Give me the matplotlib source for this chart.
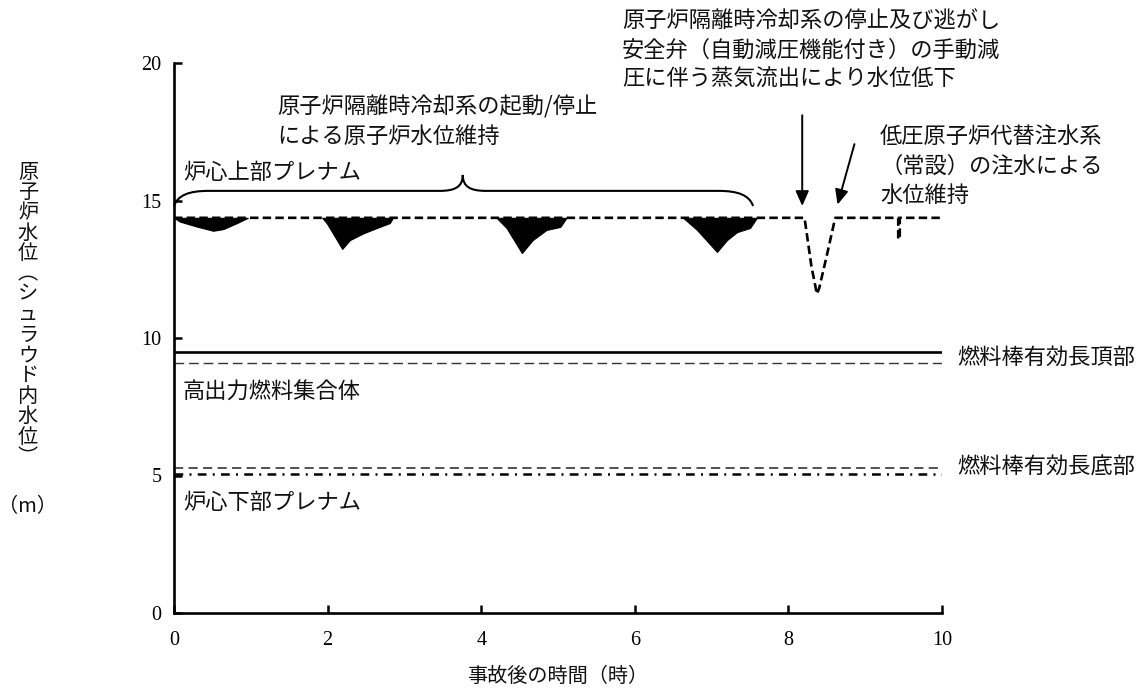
import matplotlib
matplotlib.use('Agg')
import matplotlib.pyplot as plt
from matplotlib.path import Path
from matplotlib.patches import PathPatch

plt.rcParams['font.family'] = ['Noto Sans CJK JP', 'DejaVu Sans']

W, H = 1148, 691

# ---- data ----
# reactor water level trace (dashed), hours / m
time_h = [0.0, 8.21, 8.30, 8.35, 8.37, 8.40, 8.50, 8.58, 8.61, 9.43, 9.43, 9.45, 9.45, 10.0]
level_m = [14.37, 14.37, 12.6, 11.9, 11.6, 11.8, 13.0, 14.0, 14.37, 14.37, 13.6, 13.6, 14.37, 14.37]

# RCIC start/stop oscillation envelopes (lower bound of the noisy band)
ics1_t = [0.0, 0.08, 0.30, 0.51, 0.64, 0.82, 0.96]
ics1_low = [14.37, 14.23, 14.05, 13.90, 13.96, 14.18, 14.37]
ics2_t = [1.93, 1.99, 2.07, 2.19, 2.29, 2.46, 2.64, 2.81, 2.85]
ics2_low = [14.37, 14.17, 13.80, 13.24, 13.56, 13.80, 14.00, 14.18, 14.37]
ics3_t = [4.20, 4.33, 4.53, 4.67, 4.85, 5.03, 5.11]
ics3_low = [14.37, 14.00, 13.09, 13.56, 13.93, 14.04, 14.37]
ics4_t = [6.63, 6.81, 7.07, 7.20, 7.33, 7.50, 7.59]
ics4_low = [14.37, 13.93, 13.13, 13.56, 13.85, 14.00, 14.37]
baseline_level = 14.37

fuel_top = 9.50
high_power_bundle = 9.09
fuel_bottom = 5.28
lower_plenum = 5.05

x_ticks = [0, 2, 4, 6, 8, 10]
y_ticks = [0, 5, 10, 15, 20]

# ---- figure ----
fig = plt.figure(figsize=(W / 100, H / 100), dpi=100)
ax = fig.add_axes([174 / W, 1 - 613 / H, (942 - 174) / W, (613 - 63) / H])
ax.set_xlim(0, 10)
ax.set_ylim(0, 20)

for s in ['top', 'right']:
    ax.spines[s].set_visible(False)
for s in ['left', 'bottom']:
    ax.spines[s].set_linewidth(1.9)
ax.tick_params(direction='in', length=6, width=1.8)
ax.tick_params(axis='x', pad=13)
ax.tick_params(axis='y', pad=9)
ax.set_xticks(x_ticks)
ax.set_yticks(y_ticks)
ax.set_xticklabels([str(v) for v in x_ticks], fontfamily='Liberation Serif', fontsize=14.5)
ax.set_yticklabels([str(v) for v in y_ticks], fontfamily='Liberation Serif', fontsize=14.5)

# reference levels
ax.plot([0, 10], [fuel_top] * 2, color='black', lw=1.9)
ax.plot([0, 10], [high_power_bundle] * 2, color='#333333', lw=1.0, dashes=(7, 3.5))
ax.plot([0, 10], [fuel_bottom] * 2, color='#222222', lw=1.1, dashes=(6, 3.5))
ax.plot([0, 10], [lower_plenum] * 2, color='black', lw=1.8, dashes=(3.5, 2.5, 0.8, 2.5))

# noisy RCIC bands
for tt, low in [(ics1_t, ics1_low), (ics2_t, ics2_low), (ics3_t, ics3_low), (ics4_t, ics4_low)]:
    ax.fill_between(tt, low, baseline_level, color='black', lw=0.8, edgecolor='black')

# main water level
ax.plot(time_h, level_m, color='black', lw=1.9, dashes=(3.2, 1.6))

# brace
bx0, bx1, tip = 0.0, 7.54, 3.76
yb, ytop, ytip = 14.8, 15.35, 15.93
verts = [(bx0, yb), (bx0 + 0.05, 15.2), (bx0 + 0.2, ytop), (bx0 + 0.45, ytop),
         (tip - 0.3, ytop),
         (tip - 0.1, ytop), (tip, 15.5), (tip, ytip),
         (tip, 15.5), (tip + 0.1, ytop), (tip + 0.3, ytop),
         (bx1 - 0.45, ytop),
         (bx1 - 0.2, ytop), (bx1 - 0.05, 15.2), (bx1, yb)]
codes = [Path.MOVETO, Path.CURVE4, Path.CURVE4, Path.CURVE4,
         Path.LINETO,
         Path.CURVE4, Path.CURVE4, Path.CURVE4,
         Path.CURVE4, Path.CURVE4, Path.CURVE4,
         Path.LINETO,
         Path.CURVE4, Path.CURVE4, Path.CURVE4]
ax.add_patch(PathPatch(Path(verts, codes), facecolor='none', edgecolor='black', lw=1.5, clip_on=False))

# arrows
ap = dict(arrowstyle='-|>,head_length=0.9,head_width=0.4', color='black', lw=1.4, shrinkA=0, shrinkB=0)
ax.annotate('', xy=(8.18, 14.8), xytext=(8.18, 18.1), arrowprops=ap, annotation_clip=False)
ax.annotate('', xy=(8.64, 14.85), xytext=(8.86, 17.05), arrowprops=ap, annotation_clip=False)

# texts (pixel positions)
fs = 16
tc = '#111111'


def ptext(x, y, s, **kw):
    kw.setdefault('fontsize', fs)
    kw.setdefault('color', tc)
    kw.setdefault('ha', 'left')
    kw.setdefault('va', 'center')
    fig.text(x / W, 1 - y / H, s, **kw)


ptext(622, 21, '原子炉隔離時冷却系の停止及び逃がし')
ptext(622, 50, '安全弁（自動減圧機能付き）の手動減')
ptext(622, 79, '圧に伴う蒸気流出により水位低下')
ptext(277, 107, '原子炉隔離時冷却系の起動/停止')
ptext(277, 136, 'による原子炉水位維持')
ptext(183, 172, '炉心上部プレナム')
ptext(880, 136, '低圧原子炉代替注水系')
ptext(880, 166, '（常設）の注水による')
ptext(880, 195, '水位維持')
ptext(183, 391, '高出力燃料集合体')
ptext(183, 502, '炉心下部プレナム')
ptext(957, 357, '燃料棒有効長頂部')
ptext(957, 467, '燃料棒有効長底部')
ptext(558, 676, '事故後の時間（時）', ha='center', fontsize=14.5)

ylabel_chars = list('原子炉水位︵シュラウド内水位︶')
for i, ch in enumerate(ylabel_chars):
    ptext(28, 172 + i * 20.4, ch, ha='center', fontsize=14.5)
ptext(28, 507, '（m）', ha='center', fontsize=14.5)

fig.savefig('out.png', dpi=100)
